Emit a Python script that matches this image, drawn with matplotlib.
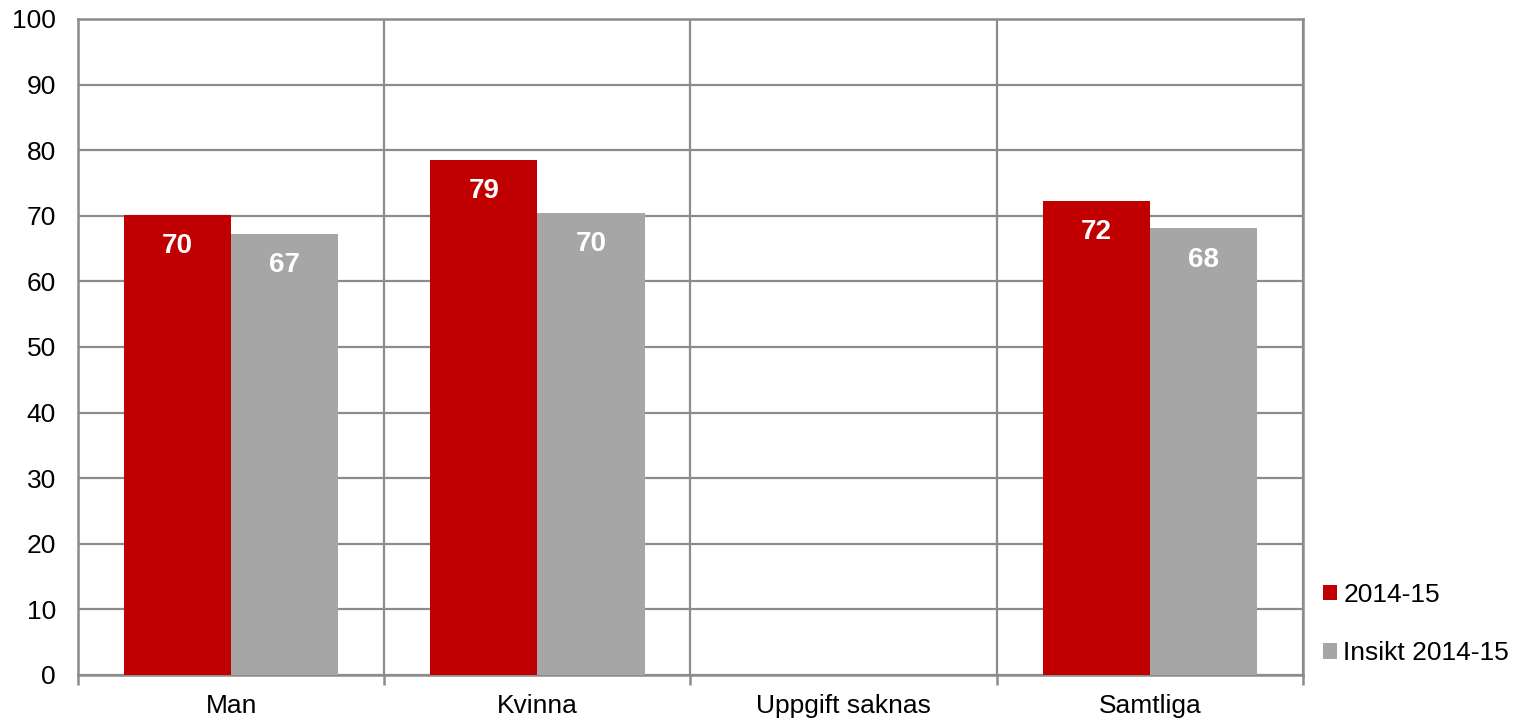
import matplotlib
matplotlib.use("Agg")
import matplotlib.pyplot as plt
import numpy as np

categories = ["Man", "Kvinna", "Uppgift saknas", "Samtliga"]
series_names = ["2014-15", "Insikt 2014-15"]
values_2014 = [70.1, 78.5, np.nan, 72.3]
values_insikt = [67.2, 70.4, np.nan, 68.1]
labels_2014 = ["70", "79", "", "72"]
labels_insikt = ["67", "70", "", "68"]
yticks = list(range(0, 101, 10))

plt.rcParams['font.family'] = ['Liberation Sans', 'DejaVu Sans']

fig = plt.figure(figsize=(15.23, 7.21), dpi=100)
ax = fig.add_axes([78/1523, 46/721, (1303-78)/1523, (675-19)/721])

x = np.arange(len(categories))
w = 0.35
red = "#C00000"
gray = "#A6A6A6"
grid_c = "#8C8C8C"

b1 = ax.bar(x - w/2, values_2014, w, color=red, label=series_names[0], zorder=3)
b2 = ax.bar(x + w/2, values_insikt, w, color=gray, label=series_names[1], zorder=3)

for bars, labs in ((b1, labels_2014), (b2, labels_insikt)):
    for rect, lab in zip(bars, labs):
        h = rect.get_height()
        if lab == "" or np.isnan(h):
            continue
        ax.annotate(lab, (rect.get_x() + rect.get_width()/2, h),
                    xytext=(0, -22.5), textcoords="offset points",
                    ha="center", va="center", color="white",
                    fontsize=20, fontweight="bold", zorder=4)

ax.set_xlim(-0.5, len(categories) - 0.5)
ax.set_ylim(0, 100)
ax.set_yticks(yticks)
ax.set_yticklabels([str(t) for t in yticks], fontsize=19)
ax.set_xticks(x)
ax.set_xticklabels(categories, fontsize=19)
ax.set_xticks(np.arange(-0.5, len(categories), 1.0), minor=True)

ax.tick_params(axis="x", which="major", length=0, pad=14)
ax.tick_params(axis="x", which="minor", length=7, width=1.8, color=grid_c, direction="out")
ax.tick_params(axis="y", which="major", length=0, pad=16)

ax.grid(axis="y", which="major", color=grid_c, linewidth=1.6, zorder=0)
ax.grid(axis="x", which="minor", color=grid_c, linewidth=1.6, zorder=0)
ax.set_axisbelow(True)

for s in ax.spines.values():
    s.set_color(grid_c)
    s.set_linewidth(1.8)

leg = fig.legend(loc="upper left", bbox_to_anchor=(1323/1523, 1 - 583/721),
                 frameon=False, fontsize=19, handlelength=0.52, handleheight=0.52,
                 handletextpad=0.25, labelspacing=1.3, borderaxespad=0, borderpad=0)

fig.savefig("out.png", dpi=100)
